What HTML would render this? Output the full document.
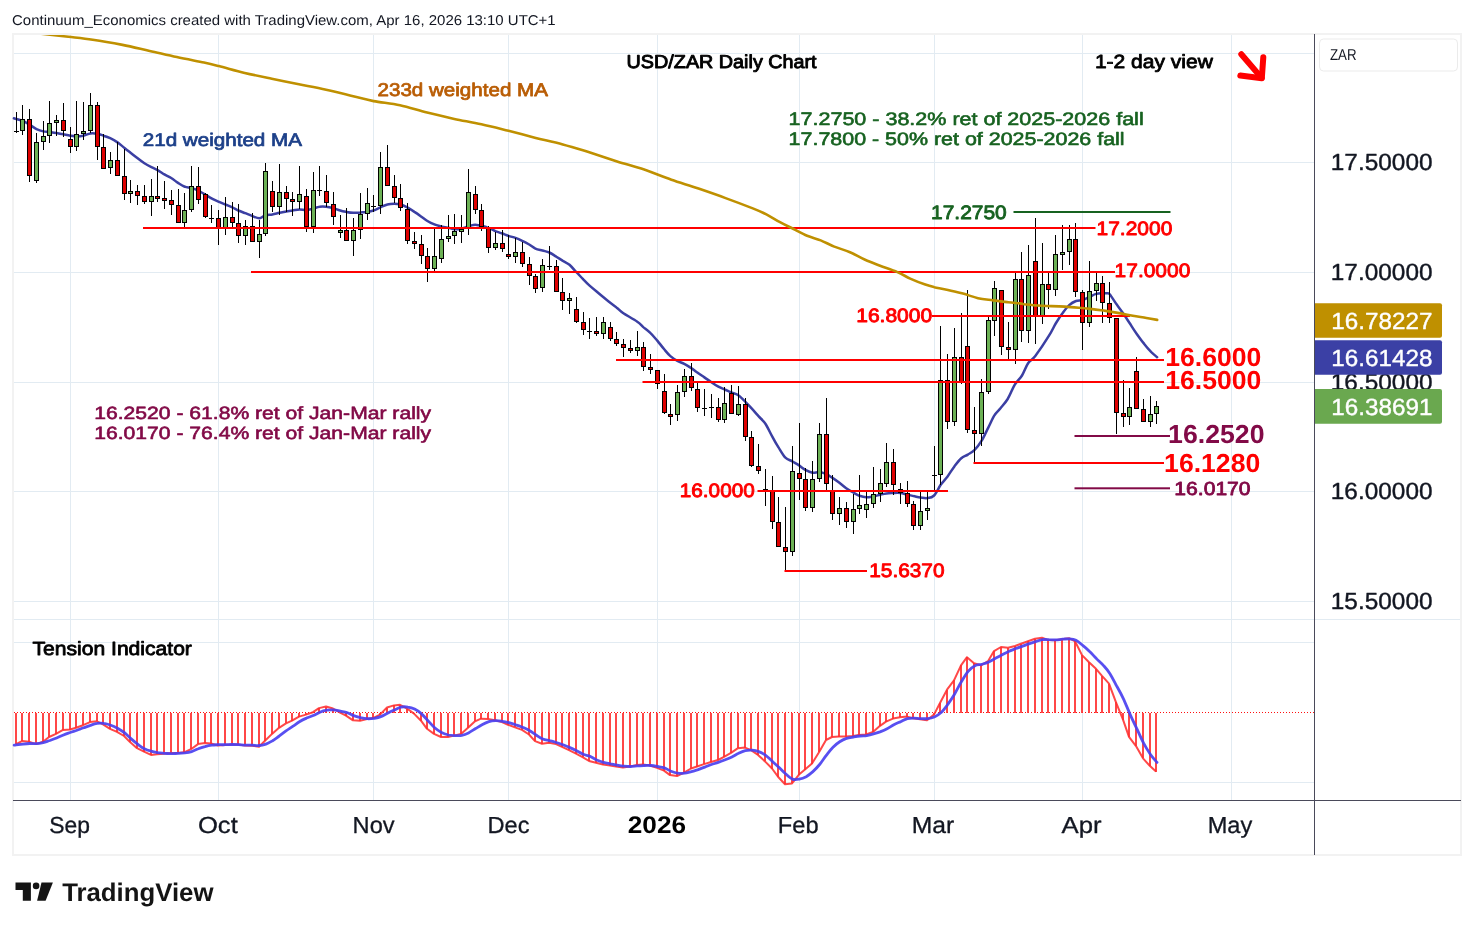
<!DOCTYPE html><html><head><meta charset="utf-8"><style>html,body{margin:0;padding:0;background:#fff}body{width:1474px;height:930px;position:relative;overflow:hidden;font-family:"Liberation Sans",sans-serif}</style></head><body><svg width="1474" height="930" viewBox="0 0 1474 930" style="position:absolute;left:0;top:0;will-change:transform" font-family="Liberation Sans, sans-serif" text-rendering="geometricPrecision">
<defs><clipPath id="pane"><rect x="14" y="35" width="1300" height="584"/></clipPath></defs>
<rect x="13" y="34" width="1448" height="821" fill="#fff" stroke="#f2f2f2" stroke-width="2"/>
<g stroke="#e2ebf2" stroke-width="1" shape-rendering="crispEdges">
<line x1="14" x2="1314" y1="53.5" y2="53.5"/>
<line x1="14" x2="1314" y1="162.5" y2="162.5"/>
<line x1="14" x2="1314" y1="272.5" y2="272.5"/>
<line x1="14" x2="1314" y1="382.5" y2="382.5"/>
<line x1="14" x2="1314" y1="491.5" y2="491.5"/>
<line x1="14" x2="1314" y1="601.5" y2="601.5"/>
<line x1="14" x2="1314" y1="642.5" y2="642.5"/>
<line x1="14" x2="1314" y1="782.5" y2="782.5"/>
<line x1="14" x2="1460" y1="619.5" y2="619.5"/>
<line x1="70.5" x2="70.5" y1="35" y2="800"/>
<line x1="218.5" x2="218.5" y1="35" y2="800"/>
<line x1="373.5" x2="373.5" y1="35" y2="800"/>
<line x1="508.5" x2="508.5" y1="35" y2="800"/>
<line x1="657.5" x2="657.5" y1="35" y2="800"/>
<line x1="799.5" x2="799.5" y1="35" y2="800"/>
<line x1="934.5" x2="934.5" y1="35" y2="800"/>
<line x1="1082.5" x2="1082.5" y1="35" y2="800"/>
<line x1="1231.5" x2="1231.5" y1="35" y2="800"/>
</g>
<line x1="14" x2="1314" y1="712.5" y2="712.5" stroke="#ff1010" stroke-width="1" stroke-dasharray="1 2"/>
<g fill="#ff3030" opacity="0.885" shape-rendering="crispEdges">
<rect x="15" y="712.5" width="2" height="31.6"/>
<rect x="21" y="712.5" width="2" height="28.6"/>
<rect x="28" y="712.5" width="2" height="29.2"/>
<rect x="35" y="712.5" width="2" height="31.6"/>
<rect x="42" y="712.5" width="2" height="29.2"/>
<rect x="48" y="712.5" width="2" height="24.5"/>
<rect x="55" y="712.5" width="2" height="21.4"/>
<rect x="62" y="712.5" width="2" height="17.4"/>
<rect x="69" y="712.5" width="2" height="17.0"/>
<rect x="75" y="712.5" width="2" height="15.3"/>
<rect x="82" y="712.5" width="2" height="12.7"/>
<rect x="89" y="712.5" width="2" height="9.6"/>
<rect x="96" y="712.5" width="2" height="8.8"/>
<rect x="102" y="712.5" width="2" height="11.9"/>
<rect x="109" y="712.5" width="2" height="16.3"/>
<rect x="116" y="712.5" width="2" height="19.4"/>
<rect x="123" y="712.5" width="2" height="23.5"/>
<rect x="129" y="712.5" width="2" height="29.6"/>
<rect x="136" y="712.5" width="2" height="35.7"/>
<rect x="143" y="712.5" width="2" height="39.1"/>
<rect x="150" y="712.5" width="2" height="42.4"/>
<rect x="156" y="712.5" width="2" height="41.8"/>
<rect x="163" y="712.5" width="2" height="41.2"/>
<rect x="170" y="712.5" width="2" height="40.4"/>
<rect x="177" y="712.5" width="2" height="40.4"/>
<rect x="183" y="712.5" width="2" height="39.8"/>
<rect x="190" y="712.5" width="2" height="36.7"/>
<rect x="197" y="712.5" width="2" height="31.6"/>
<rect x="204" y="712.5" width="2" height="30.6"/>
<rect x="210" y="712.5" width="2" height="31.0"/>
<rect x="217" y="712.5" width="2" height="33.0"/>
<rect x="224" y="712.5" width="2" height="32.6"/>
<rect x="231" y="712.5" width="2" height="32.0"/>
<rect x="237" y="712.5" width="2" height="32.0"/>
<rect x="244" y="712.5" width="2" height="33.0"/>
<rect x="251" y="712.5" width="2" height="33.2"/>
<rect x="258" y="712.5" width="2" height="34.3"/>
<rect x="264" y="712.5" width="2" height="28.2"/>
<rect x="271" y="712.5" width="2" height="21.4"/>
<rect x="278" y="712.5" width="2" height="15.3"/>
<rect x="285" y="712.5" width="2" height="10.9"/>
<rect x="291" y="712.5" width="2" height="8.2"/>
<rect x="298" y="712.5" width="2" height="4.1"/>
<rect x="305" y="712.5" width="2" height="2.1"/>
<rect x="312" y="712.2" width="2" height="0.3"/>
<rect x="318" y="708.1" width="2" height="4.4"/>
<rect x="325" y="706.5" width="2" height="6.0"/>
<rect x="332" y="708.5" width="2" height="4.0"/>
<rect x="339" y="712.5" width="2" height="0.1"/>
<rect x="345" y="712.5" width="2" height="3.1"/>
<rect x="352" y="712.5" width="2" height="7.8"/>
<rect x="359" y="712.5" width="2" height="8.2"/>
<rect x="366" y="712.5" width="2" height="6.6"/>
<rect x="372" y="712.5" width="2" height="5.6"/>
<rect x="379" y="712.5" width="2" height="2.1"/>
<rect x="386" y="707.5" width="2" height="5.0"/>
<rect x="393" y="705.4" width="2" height="7.1"/>
<rect x="399" y="704.8" width="2" height="7.7"/>
<rect x="406" y="708.5" width="2" height="4.0"/>
<rect x="413" y="712.5" width="2" height="1.1"/>
<rect x="420" y="712.5" width="2" height="8.2"/>
<rect x="426" y="712.5" width="2" height="16.3"/>
<rect x="433" y="712.5" width="2" height="21.4"/>
<rect x="440" y="712.5" width="2" height="24.5"/>
<rect x="447" y="712.5" width="2" height="24.5"/>
<rect x="453" y="712.5" width="2" height="23.1"/>
<rect x="460" y="712.5" width="2" height="21.4"/>
<rect x="467" y="712.5" width="2" height="15.3"/>
<rect x="474" y="712.5" width="2" height="8.8"/>
<rect x="480" y="712.5" width="2" height="6.2"/>
<rect x="487" y="712.5" width="2" height="6.6"/>
<rect x="494" y="712.5" width="2" height="7.8"/>
<rect x="501" y="712.5" width="2" height="9.6"/>
<rect x="507" y="712.5" width="2" height="12.3"/>
<rect x="514" y="712.5" width="2" height="14.9"/>
<rect x="521" y="712.5" width="2" height="17.4"/>
<rect x="528" y="712.5" width="2" height="22.0"/>
<rect x="534" y="712.5" width="2" height="28.6"/>
<rect x="541" y="712.5" width="2" height="31.2"/>
<rect x="548" y="712.5" width="2" height="30.2"/>
<rect x="555" y="712.5" width="2" height="31.6"/>
<rect x="561" y="712.5" width="2" height="34.3"/>
<rect x="568" y="712.5" width="2" height="37.7"/>
<rect x="575" y="712.5" width="2" height="41.2"/>
<rect x="582" y="712.5" width="2" height="44.8"/>
<rect x="588" y="712.5" width="2" height="48.5"/>
<rect x="595" y="712.5" width="2" height="50.3"/>
<rect x="602" y="712.5" width="2" height="52.0"/>
<rect x="609" y="712.5" width="2" height="53.0"/>
<rect x="615" y="712.5" width="2" height="54.0"/>
<rect x="622" y="712.5" width="2" height="55.0"/>
<rect x="629" y="712.5" width="2" height="54.0"/>
<rect x="636" y="712.5" width="2" height="52.6"/>
<rect x="642" y="712.5" width="2" height="52.0"/>
<rect x="649" y="712.5" width="2" height="53.0"/>
<rect x="656" y="712.5" width="2" height="55.4"/>
<rect x="663" y="712.5" width="2" height="58.1"/>
<rect x="669" y="712.5" width="2" height="62.6"/>
<rect x="676" y="712.5" width="2" height="63.6"/>
<rect x="683" y="712.5" width="2" height="60.1"/>
<rect x="690" y="712.5" width="2" height="56.0"/>
<rect x="696" y="712.5" width="2" height="54.0"/>
<rect x="703" y="712.5" width="2" height="51.6"/>
<rect x="710" y="712.5" width="2" height="49.5"/>
<rect x="717" y="712.5" width="2" height="47.5"/>
<rect x="723" y="712.5" width="2" height="44.4"/>
<rect x="730" y="712.5" width="2" height="40.4"/>
<rect x="737" y="712.5" width="2" height="35.7"/>
<rect x="744" y="712.5" width="2" height="35.1"/>
<rect x="750" y="712.5" width="2" height="37.7"/>
<rect x="757" y="712.5" width="2" height="42.4"/>
<rect x="764" y="712.5" width="2" height="48.9"/>
<rect x="771" y="712.5" width="2" height="56.0"/>
<rect x="777" y="712.5" width="2" height="64.2"/>
<rect x="784" y="712.5" width="2" height="71.7"/>
<rect x="791" y="712.5" width="2" height="70.9"/>
<rect x="798" y="712.5" width="2" height="62.1"/>
<rect x="804" y="712.5" width="2" height="57.1"/>
<rect x="811" y="712.5" width="2" height="51.0"/>
<rect x="818" y="712.5" width="2" height="39.8"/>
<rect x="825" y="712.5" width="2" height="27.5"/>
<rect x="831" y="712.5" width="2" height="24.5"/>
<rect x="838" y="712.5" width="2" height="24.1"/>
<rect x="845" y="712.5" width="2" height="24.1"/>
<rect x="852" y="712.5" width="2" height="23.5"/>
<rect x="858" y="712.5" width="2" height="22.5"/>
<rect x="865" y="712.5" width="2" height="22.0"/>
<rect x="872" y="712.5" width="2" height="19.4"/>
<rect x="879" y="712.5" width="2" height="13.3"/>
<rect x="885" y="712.5" width="2" height="9.2"/>
<rect x="892" y="712.5" width="2" height="6.1"/>
<rect x="899" y="712.5" width="2" height="4.7"/>
<rect x="906" y="712.5" width="2" height="4.1"/>
<rect x="912" y="712.5" width="2" height="5.7"/>
<rect x="919" y="712.5" width="2" height="6.7"/>
<rect x="926" y="712.5" width="2" height="7.8"/>
<rect x="933" y="712.5" width="2" height="2.1"/>
<rect x="939" y="703.0" width="2" height="9.5"/>
<rect x="946" y="689.7" width="2" height="22.8"/>
<rect x="953" y="680.4" width="2" height="32.1"/>
<rect x="960" y="665.3" width="2" height="47.2"/>
<rect x="966" y="657.2" width="2" height="55.3"/>
<rect x="973" y="663.3" width="2" height="49.2"/>
<rect x="980" y="665.3" width="2" height="47.2"/>
<rect x="987" y="661.2" width="2" height="51.3"/>
<rect x="993" y="651.1" width="2" height="61.4"/>
<rect x="1000" y="647.0" width="2" height="65.5"/>
<rect x="1007" y="647.8" width="2" height="64.7"/>
<rect x="1014" y="646.0" width="2" height="66.5"/>
<rect x="1020" y="643.7" width="2" height="68.8"/>
<rect x="1027" y="641.3" width="2" height="71.2"/>
<rect x="1034" y="638.8" width="2" height="73.7"/>
<rect x="1041" y="637.8" width="2" height="74.7"/>
<rect x="1047" y="639.9" width="2" height="72.6"/>
<rect x="1054" y="640.3" width="2" height="72.2"/>
<rect x="1061" y="639.2" width="2" height="73.3"/>
<rect x="1068" y="638.2" width="2" height="74.3"/>
<rect x="1074" y="641.3" width="2" height="71.2"/>
<rect x="1081" y="655.1" width="2" height="57.4"/>
<rect x="1088" y="662.2" width="2" height="50.3"/>
<rect x="1095" y="668.8" width="2" height="43.7"/>
<rect x="1101" y="675.9" width="2" height="36.6"/>
<rect x="1108" y="683.6" width="2" height="28.9"/>
<rect x="1115" y="702.3" width="2" height="10.2"/>
<rect x="1122" y="712.5" width="2" height="7.1"/>
<rect x="1128" y="712.5" width="2" height="24.4"/>
<rect x="1135" y="712.5" width="2" height="33.6"/>
<rect x="1142" y="712.5" width="2" height="45.8"/>
<rect x="1149" y="712.5" width="2" height="53.6"/>
<rect x="1155" y="712.5" width="2" height="59.0"/>
</g>
<polyline points="16,744.1 22,741.1 29,741.7 36,744.1 43,741.7 49,737.0 56,733.9 63,729.9 70,729.5 76,727.8 83,725.2 90,722.1 97,721.3 103,724.4 110,728.8 117,731.9 124,736.0 130,742.1 137,748.2 144,751.6 151,754.9 157,754.3 164,753.7 171,752.9 178,752.9 184,752.3 191,749.2 198,744.1 205,743.1 211,743.5 218,745.5 225,745.1 232,744.5 238,744.5 245,745.5 252,745.7 259,746.8 265,740.7 272,733.9 279,727.8 286,723.4 292,720.7 299,716.6 306,714.6 313,712.2 319,708.1 326,706.5 333,708.5 340,712.6 346,715.6 353,720.3 360,720.7 367,719.1 373,718.1 380,714.6 387,707.5 394,705.4 400,704.8 407,708.5 414,713.6 421,720.7 427,728.8 434,733.9 441,737.0 448,737.0 454,735.6 461,733.9 468,727.8 475,721.3 481,718.7 488,719.1 495,720.3 502,722.1 508,724.8 515,727.4 522,729.9 529,734.5 535,741.1 542,743.7 549,742.7 556,744.1 562,746.8 569,750.2 576,753.7 583,757.3 589,761.0 596,762.8 603,764.5 610,765.5 616,766.5 623,767.5 630,766.5 637,765.1 643,764.5 650,765.5 657,767.9 664,770.6 670,775.1 677,776.1 684,772.6 691,768.5 697,766.5 704,764.1 711,762.0 718,760.0 724,756.9 731,752.9 738,748.2 745,747.6 751,750.2 758,754.9 765,761.4 772,768.5 778,776.7 785,784.2 792,783.4 799,774.6 805,769.6 812,763.5 819,752.3 826,740.0 832,737.0 839,736.6 846,736.6 853,736.0 859,735.0 866,734.5 873,731.9 880,725.8 886,721.7 893,718.6 900,717.2 907,716.6 913,718.2 920,719.2 927,720.3 934,714.6 940,703.0 947,689.7 954,680.4 961,665.3 967,657.2 974,663.3 981,665.3 988,661.2 994,651.1 1001,647.0 1008,647.8 1015,646.0 1021,643.7 1028,641.3 1035,638.8 1042,637.8 1048,639.9 1055,640.3 1062,639.2 1069,638.2 1075,641.3 1082,655.1 1089,662.2 1096,668.8 1102,675.9 1109,683.6 1116,702.3 1123,719.6 1129,736.9 1136,746.1 1143,758.3 1150,766.1 1156,771.5" fill="none" stroke="#ff3030" stroke-width="2" stroke-linejoin="round" opacity="0.885"/>
<path d="M14.1 745.1 C15.6 745.0 20.4 744.4 23.0 744.1 C25.6 743.8 27.5 743.6 29.7 743.5 C32.0 743.4 34.2 743.8 36.5 743.7 C38.7 743.6 40.9 743.2 43.2 742.7 C45.4 742.1 47.7 741.2 49.9 740.5 C52.1 739.7 54.3 738.9 56.6 738.0 C58.9 737.1 61.3 735.9 63.5 735.0 C65.8 734.0 68.0 733.3 70.2 732.5 C72.5 731.7 74.7 731.1 77.0 730.3 C79.2 729.5 81.4 728.6 83.7 727.8 C85.9 727.0 88.2 726.1 90.4 725.4 C92.6 724.6 94.9 723.7 97.1 723.4 C99.4 723.0 101.6 723.0 103.8 723.4 C106.1 723.7 108.5 724.4 110.8 725.2 C113.0 726.0 115.2 727.0 117.5 728.2 C119.7 729.5 121.9 730.8 124.2 732.5 C126.4 734.2 128.7 736.7 130.9 738.6 C133.1 740.6 135.4 742.4 137.6 744.1 C139.9 745.8 142.1 747.6 144.3 748.8 C146.6 750.0 148.8 750.6 151.1 751.2 C153.3 751.9 155.7 752.3 158.0 752.7 C160.2 753.0 162.5 753.1 164.7 753.3 C166.9 753.4 169.2 753.7 171.4 753.7 C173.6 753.7 175.9 753.4 178.1 753.3 C180.4 753.1 182.6 753.1 184.8 752.9 C187.1 752.6 189.3 752.3 191.6 751.6 C193.8 751.0 196.0 749.6 198.3 748.8 C200.5 747.9 202.7 747.2 205.0 746.6 C207.3 745.9 209.6 745.4 211.9 745.1 C214.2 744.8 216.4 744.8 218.6 744.7 C220.9 744.7 223.1 744.8 225.3 744.7 C227.6 744.7 229.8 744.5 232.1 744.5 C234.3 744.5 236.5 744.6 238.8 744.7 C241.0 744.8 243.3 745.1 245.5 745.1 C247.7 745.2 249.9 745.1 252.2 745.1 C254.5 745.2 256.9 745.7 259.1 745.5 C261.4 745.4 263.6 744.9 265.9 744.1 C268.1 743.3 270.3 742.0 272.6 740.7 C274.8 739.3 277.0 737.6 279.3 736.0 C281.5 734.3 283.8 732.5 286.0 730.9 C288.2 729.3 290.5 727.9 292.7 726.4 C295.0 724.9 297.1 723.1 299.4 721.7 C301.7 720.3 304.2 719.1 306.5 718.1 C308.8 717.0 311.0 716.6 313.2 715.6 C315.5 714.6 317.7 713.1 319.9 712.2 C322.2 711.2 324.6 710.5 326.9 710.1 C329.1 709.8 331.3 709.8 333.6 709.9 C335.8 710.1 338.1 710.7 340.3 711.1 C342.5 711.6 344.8 711.8 347.0 712.6 C349.3 713.3 351.5 714.8 353.7 715.6 C356.0 716.5 358.2 717.1 360.5 717.7 C362.7 718.2 365.1 718.6 367.4 718.7 C369.6 718.8 371.9 718.6 374.1 718.3 C376.3 717.9 378.6 717.5 380.8 716.6 C383.0 715.8 385.3 714.3 387.5 713.2 C389.8 712.1 392.0 711.1 394.2 710.1 C396.5 709.1 398.7 707.6 401.0 707.1 C403.2 706.6 405.6 706.7 407.9 707.1 C410.1 707.4 412.4 708.0 414.6 709.1 C416.8 710.2 419.1 711.7 421.3 713.6 C423.5 715.5 425.8 718.3 428.0 720.7 C430.3 723.1 432.5 725.9 434.7 727.8 C437.0 729.8 439.2 731.3 441.5 732.5 C443.7 733.7 446.1 734.4 448.4 735.0 C450.7 735.5 452.9 735.5 455.1 735.6 C457.3 735.6 459.6 735.8 461.8 735.4 C464.1 734.9 466.3 734.0 468.5 732.9 C470.8 731.8 473.0 730.2 475.2 728.8 C477.5 727.5 479.7 726.0 482.0 724.8 C484.2 723.6 486.6 722.4 488.9 721.7 C491.2 721.0 493.4 720.8 495.6 720.7 C497.8 720.6 500.1 721.0 502.3 721.3 C504.6 721.7 506.8 722.2 509.0 722.7 C511.3 723.3 513.5 724.0 515.8 724.8 C518.0 725.5 520.2 726.3 522.5 727.2 C524.7 728.2 527.1 729.2 529.4 730.5 C531.7 731.8 533.9 733.5 536.1 735.0 C538.3 736.4 540.6 738.1 542.8 739.0 C545.1 740.0 547.3 740.1 549.5 740.7 C551.8 741.2 554.0 741.8 556.3 742.5 C558.5 743.2 560.7 743.9 563.0 744.7 C565.2 745.6 567.6 746.6 569.9 747.6 C572.2 748.6 574.4 749.7 576.6 750.8 C578.9 752.0 581.1 753.4 583.3 754.3 C585.6 755.2 587.8 755.4 590.0 756.3 C592.2 757.3 594.4 759.0 596.7 760.0 C599.0 761.0 601.4 761.8 603.6 762.4 C605.9 763.1 608.1 763.4 610.4 763.9 C612.6 764.3 614.8 764.7 617.1 765.1 C619.3 765.5 621.5 765.9 623.8 766.1 C626.0 766.3 628.3 766.5 630.5 766.5 C632.7 766.5 634.9 766.1 637.2 765.9 C639.5 765.7 641.9 765.6 644.1 765.5 C646.4 765.4 648.6 765.3 650.9 765.5 C653.1 765.7 655.3 766.1 657.6 766.5 C659.8 766.9 662.1 767.1 664.3 767.9 C666.5 768.7 668.8 770.3 671.0 771.2 C673.2 772.1 675.5 772.9 677.7 773.2 C680.0 773.6 682.4 773.5 684.6 773.2 C686.9 773.0 689.1 772.2 691.4 771.6 C693.6 771.0 695.8 770.3 698.1 769.6 C700.3 768.8 702.6 768.0 704.8 767.1 C707.0 766.3 709.3 765.3 711.5 764.5 C713.8 763.7 716.0 763.2 718.2 762.4 C720.5 761.7 722.9 760.7 725.2 759.8 C727.4 758.9 729.6 758.0 731.9 756.9 C734.1 755.9 736.3 754.3 738.6 753.3 C740.8 752.2 743.1 751.1 745.3 750.6 C747.5 750.1 749.8 750.1 752.0 750.2 C754.3 750.4 756.5 750.8 758.7 751.6 C761.0 752.5 763.4 753.7 765.7 755.3 C767.9 756.9 770.1 759.4 772.4 761.4 C774.6 763.5 776.9 765.4 779.1 767.5 C781.3 769.6 783.6 772.1 785.8 774.0 C788.0 776.0 790.3 778.3 792.5 779.1 C794.8 780.0 797.0 779.5 799.2 779.1 C801.5 778.7 803.9 777.9 806.2 776.7 C808.4 775.4 810.6 773.6 812.9 771.6 C815.1 769.6 817.4 767.2 819.6 764.5 C821.8 761.8 824.1 758.2 826.3 755.3 C828.6 752.4 830.8 749.4 833.0 747.2 C835.3 744.9 837.5 743.1 839.7 741.7 C842.0 740.2 844.2 739.2 846.5 738.4 C848.7 737.6 851.1 737.4 853.4 737.0 C855.7 736.6 857.9 736.2 860.1 736.0 C862.3 735.7 864.6 735.9 866.8 735.6 C869.1 735.2 871.3 734.6 873.5 733.9 C875.7 733.3 877.7 732.7 880.0 731.9 C882.3 731.0 884.8 730.0 887.1 728.8 C889.4 727.6 891.6 725.9 893.8 724.7 C896.1 723.5 898.3 722.7 900.6 721.7 C902.8 720.7 905.0 719.2 907.3 718.6 C909.5 718.1 911.8 718.2 914.0 718.2 C916.2 718.2 918.4 718.6 920.7 718.6 C923.0 718.7 925.4 718.9 927.6 718.6 C929.9 718.4 932.1 718.0 934.3 717.0 C936.6 716.0 938.8 714.6 941.1 712.5 C943.3 710.4 945.5 707.4 947.8 704.4 C950.0 701.3 952.3 697.9 954.5 694.2 C956.7 690.5 958.9 685.8 961.2 682.0 C963.5 678.2 965.9 674.1 968.1 671.4 C970.4 668.7 972.6 666.9 974.9 665.7 C977.1 664.5 979.3 664.9 981.6 664.3 C983.8 663.7 986.0 663.2 988.3 662.2 C990.5 661.3 992.8 659.8 995.0 658.6 C997.2 657.4 999.4 656.3 1001.7 655.1 C1004.0 653.9 1006.4 652.5 1008.6 651.5 C1010.9 650.4 1013.1 649.7 1015.4 648.8 C1017.6 648.0 1019.8 647.2 1022.1 646.4 C1024.3 645.6 1026.5 644.7 1028.8 643.9 C1031.0 643.1 1033.3 642.4 1035.5 641.7 C1037.7 641.0 1039.9 640.0 1042.2 639.7 C1044.5 639.3 1046.9 639.6 1049.1 639.7 C1051.4 639.7 1053.6 639.9 1055.9 639.9 C1058.1 639.8 1060.3 639.4 1062.6 639.2 C1064.8 639.1 1067.1 638.7 1069.3 638.8 C1071.5 639.0 1073.8 639.2 1076.0 640.3 C1078.2 641.4 1080.5 643.5 1082.7 645.4 C1085.0 647.2 1087.4 649.3 1089.6 651.5 C1091.9 653.7 1094.1 656.3 1096.4 658.6 C1098.6 660.9 1100.8 662.6 1103.1 665.1 C1105.3 667.6 1107.6 670.0 1109.8 673.4 C1112.0 676.9 1114.3 681.5 1116.5 685.7 C1118.8 689.8 1121.0 693.5 1123.2 698.3 C1125.5 703.1 1127.9 709.5 1130.2 714.6 C1132.4 719.6 1134.6 724.1 1136.9 728.8 C1139.1 733.6 1141.3 738.8 1143.6 743.1 C1145.8 747.3 1148.1 751.0 1150.3 754.2 C1152.5 757.5 1155.9 761.0 1157.0 762.4" fill="none" stroke="#4a40f0" stroke-width="2.8" stroke-linejoin="round" stroke-linecap="round" opacity="0.92"/>
<path d="M13.9 118.3 C15.4 118.7 20.2 119.7 22.8 120.8 C25.4 121.8 27.2 123.3 29.5 124.7 C31.8 126.0 34.2 128.0 36.5 129.1 C38.8 130.2 41.1 130.9 43.3 131.4 C45.5 131.9 47.5 131.7 49.7 132.0 C51.8 132.3 54.1 132.6 56.4 133.0 C58.7 133.4 61.3 133.9 63.6 134.3 C65.9 134.8 68.2 135.4 70.3 135.7 C72.5 136.0 74.4 136.3 76.5 136.3 C78.7 136.3 81.0 136.2 83.3 135.7 C85.6 135.2 88.1 133.7 90.5 133.4 C92.8 133.0 95.3 133.4 97.4 133.7 C99.6 134.1 101.3 134.9 103.4 135.7 C105.6 136.4 107.8 137.1 110.2 138.2 C112.5 139.3 115.2 140.8 117.5 142.4 C119.9 144.1 122.3 146.2 124.5 147.9 C126.7 149.6 128.4 151.0 130.5 152.7 C132.6 154.4 135.0 156.3 137.3 158.1 C139.6 159.9 142.1 161.8 144.4 163.3 C146.8 164.9 149.2 166.1 151.4 167.2 C153.6 168.3 155.4 168.9 157.6 170.1 C159.7 171.3 162.1 173.0 164.4 174.4 C166.6 175.7 168.9 176.6 171.2 178.0 C173.5 179.4 175.7 181.4 178.0 182.9 C180.2 184.3 182.5 185.9 184.8 186.7 C187.0 187.6 189.3 187.4 191.5 188.1 C193.8 188.7 196.0 189.5 198.3 190.6 C200.6 191.7 202.9 193.2 205.1 194.5 C207.3 195.8 209.2 197.1 211.5 198.3 C213.7 199.5 216.1 200.6 218.4 201.6 C220.7 202.7 223.1 203.6 225.4 204.5 C227.7 205.5 230.2 206.4 232.3 207.4 C234.5 208.4 236.2 209.6 238.3 210.5 C240.5 211.5 242.9 212.3 245.3 213.2 C247.7 214.2 250.1 215.3 252.5 216.1 C254.8 217.0 257.3 218.4 259.4 218.3 C261.6 218.1 263.3 215.8 265.4 215.2 C267.6 214.5 270.1 214.8 272.4 214.4 C274.7 214.0 277.0 213.3 279.3 212.8 C281.7 212.4 284.1 211.9 286.3 211.5 C288.5 211.1 290.3 210.9 292.5 210.5 C294.7 210.2 297.1 209.5 299.5 209.4 C301.8 209.3 304.1 210.1 306.4 209.9 C308.7 209.8 311.1 209.1 313.3 208.6 C315.5 208.0 317.3 207.0 319.5 206.7 C321.6 206.3 324.0 206.4 326.2 206.7 C328.5 206.9 330.7 207.4 333.0 208.0 C335.3 208.7 337.9 209.9 340.2 210.5 C342.4 211.2 344.2 211.5 346.4 211.9 C348.6 212.3 351.0 212.7 353.3 212.8 C355.6 212.9 358.0 212.6 360.3 212.5 C362.6 212.3 365.1 212.2 367.3 211.9 C369.4 211.6 371.3 211.3 373.4 210.5 C375.6 209.8 378.1 208.4 380.4 207.4 C382.7 206.4 385.0 205.1 387.4 204.5 C389.7 203.9 392.2 203.8 394.3 203.8 C396.5 203.8 398.2 203.9 400.3 204.5 C402.5 205.1 404.9 206.2 407.3 207.4 C409.6 208.7 412.1 210.3 414.4 211.9 C416.8 213.4 419.3 215.2 421.4 216.7 C423.6 218.2 425.2 219.7 427.4 221.0 C429.6 222.3 432.1 223.5 434.4 224.4 C436.7 225.4 439.0 225.8 441.3 226.4 C443.7 226.9 446.1 227.3 448.3 227.7 C450.5 228.2 452.3 229.1 454.5 229.3 C456.7 229.4 459.7 229.1 461.6 228.7 C463.6 228.3 464.5 227.7 466.1 227.1 C467.7 226.5 469.8 225.7 471.3 225.4 C472.8 225.0 473.9 224.8 475.2 224.8 C476.5 224.8 477.2 225.0 479.0 225.4 C480.9 225.7 484.6 226.4 486.1 226.9 C487.7 227.5 487.6 228.3 488.4 228.7 C489.3 229.0 490.1 228.6 491.3 229.0 C492.5 229.5 493.6 230.4 495.4 231.2 C497.2 231.9 500.2 232.7 502.4 233.5 C504.5 234.3 506.2 235.1 508.4 235.8 C510.5 236.6 513.2 237.1 515.5 237.9 C517.8 238.8 520.0 239.8 522.3 240.9 C524.6 241.9 527.1 243.2 529.2 244.5 C531.4 245.8 533.2 247.6 535.4 248.6 C537.6 249.6 540.1 249.9 542.4 250.5 C544.7 251.2 547.0 251.4 549.4 252.5 C551.7 253.5 554.1 255.4 556.3 256.7 C558.5 258.1 560.3 259.2 562.5 260.6 C564.7 261.9 567.2 262.9 569.5 264.8 C571.8 266.8 574.1 269.7 576.4 272.2 C578.8 274.6 581.2 277.3 583.4 279.5 C585.6 281.8 587.4 283.7 589.6 285.7 C591.8 287.7 594.2 289.6 596.6 291.5 C598.9 293.5 601.8 295.9 603.5 297.3 C605.2 298.7 604.6 298.3 606.8 300.0 C608.9 301.7 613.7 305.2 616.4 307.4 C619.2 309.5 619.9 310.8 623.4 313.2 C626.9 315.5 634.0 319.3 637.3 321.7 C640.7 324.0 641.2 325.2 643.3 327.1 C645.5 328.9 648.0 330.6 650.3 332.9 C652.6 335.1 654.9 337.9 657.3 340.6 C659.6 343.4 662.0 346.7 664.2 349.3 C666.4 351.9 668.2 354.2 670.4 356.1 C672.6 358.0 675.0 359.6 677.4 360.9 C679.7 362.2 682.0 362.6 684.3 363.8 C686.7 365.0 689.1 366.6 691.3 368.1 C693.5 369.5 695.1 371.0 697.3 372.5 C699.5 374.1 702.1 375.8 704.4 377.4 C706.8 379.0 709.1 380.7 711.4 382.2 C713.7 383.8 716.2 385.5 718.4 386.7 C720.5 387.8 722.2 388.4 724.4 389.4 C726.5 390.3 729.0 391.5 731.3 392.5 C733.7 393.4 736.0 393.6 738.3 395.2 C740.6 396.7 743.2 399.6 745.4 401.8 C747.6 404.0 749.2 405.8 751.4 408.2 C753.6 410.6 756.2 413.6 758.5 416.2 C760.8 418.8 763.1 420.3 765.4 423.7 C767.7 427.1 770.1 432.7 772.3 436.6 C774.4 440.6 776.3 443.9 778.5 447.4 C780.7 450.9 783.1 455.4 785.4 457.7 C787.7 460.0 789.9 460.0 792.3 461.3 C794.6 462.7 797.2 464.2 799.4 465.6 C801.5 467.1 803.2 468.8 805.4 469.9 C807.6 471.1 810.1 472.4 812.5 472.7 C814.8 473.1 817.0 471.8 819.4 472.1 C821.7 472.3 824.3 473.3 826.5 474.2 C828.6 475.2 830.3 476.5 832.5 477.9 C834.6 479.3 837.1 481.1 839.4 482.8 C841.6 484.6 843.9 486.6 846.2 488.2 C848.6 489.8 851.1 491.3 853.3 492.5 C855.5 493.8 857.2 495.0 859.4 495.8 C861.5 496.5 863.9 497.2 866.2 497.3 C868.6 497.4 871.0 496.8 873.3 496.4 C875.7 496.0 878.0 495.2 880.2 494.7 C882.4 494.2 884.3 493.7 886.5 493.4 C888.7 493.1 891.2 493.1 893.5 493.0 C895.8 492.9 898.1 492.7 900.4 493.0 C902.7 493.3 905.0 494.1 907.2 494.6 C909.3 495.1 911.3 495.6 913.5 496.1 C915.7 496.5 918.1 497.2 920.4 497.5 C922.8 497.8 925.1 498.5 927.4 498.1 C929.7 497.8 931.9 497.7 934.1 495.5 C936.4 493.2 938.5 488.0 940.7 484.8 C942.9 481.7 945.1 479.7 947.4 476.7 C949.7 473.6 952.0 469.5 954.4 466.4 C956.7 463.4 959.1 460.2 961.3 458.3 C963.6 456.3 965.7 456.0 967.8 454.6 C970.0 453.2 972.1 452.4 974.4 450.1 C976.7 447.8 979.2 444.7 981.5 440.9 C983.8 437.2 986.1 431.9 988.3 427.6 C990.4 423.4 992.4 418.6 994.4 415.4 C996.4 412.1 998.3 410.9 1000.5 408.2 C1002.7 405.5 1005.3 402.9 1007.7 399.0 C1010.1 395.1 1012.4 388.6 1014.8 384.7 C1017.2 380.8 1019.8 379.1 1022.0 375.5 C1024.2 372.0 1025.9 366.5 1028.1 363.3 C1030.3 360.0 1031.8 360.7 1035.3 356.1 C1038.7 351.5 1045.6 341.2 1049.0 335.7 C1052.4 330.3 1053.5 327.2 1055.7 323.5 C1058.0 319.7 1060.2 316.3 1062.5 313.3 C1064.7 310.2 1067.0 307.1 1069.2 305.1 C1071.5 303.1 1073.7 301.9 1076.0 301.0 C1078.2 300.2 1080.4 300.7 1082.7 300.0 C1084.9 299.3 1087.2 298.0 1089.4 296.9 C1091.7 295.9 1093.9 294.5 1096.2 293.9 C1098.4 293.3 1101.0 293.4 1102.9 293.3 C1104.8 293.2 1106.3 293.1 1107.4 293.3 C1108.5 293.4 1108.2 292.5 1109.7 294.3 C1111.2 296.1 1114.2 300.9 1116.4 304.1 C1118.7 307.2 1120.9 310.0 1123.1 313.3 C1125.4 316.5 1127.6 320.1 1129.9 323.5 C1132.1 326.9 1134.2 330.3 1136.6 333.7 C1139.0 337.1 1141.7 340.9 1144.2 343.9 C1146.6 347.0 1149.2 349.9 1151.3 352.1 C1153.5 354.3 1156.1 356.3 1157.1 357.2" fill="none" stroke="#3b3fa3" stroke-width="2.5" stroke-linejoin="round" stroke-linecap="round"/>
<g shape-rendering="crispEdges">
<rect x="16.0" y="112" width="1" height="21" fill="#000"/>
<rect x="14.0" y="131" width="5" height="1" fill="#000"/>
<rect x="22.0" y="105" width="1" height="30" fill="#000"/>
<rect x="20.0" y="119" width="5" height="12" fill="#000"/>
<rect x="21.0" y="120" width="3" height="10" fill="#6cb155"/>
<rect x="29.0" y="109" width="1" height="73" fill="#000"/>
<rect x="27.0" y="119" width="5" height="57" fill="#000"/>
<rect x="28.0" y="120" width="3" height="55" fill="#de0000"/>
<rect x="36.0" y="133" width="1" height="50" fill="#000"/>
<rect x="34.0" y="142" width="5" height="39" fill="#000"/>
<rect x="35.0" y="143" width="3" height="37" fill="#6cb155"/>
<rect x="43.0" y="121" width="1" height="29" fill="#000"/>
<rect x="41.0" y="136" width="5" height="6" fill="#000"/>
<rect x="42.0" y="137" width="3" height="4" fill="#6cb155"/>
<rect x="49.0" y="101" width="1" height="42" fill="#000"/>
<rect x="47.0" y="123" width="5" height="13" fill="#000"/>
<rect x="48.0" y="124" width="3" height="11" fill="#6cb155"/>
<rect x="56.0" y="115" width="1" height="21" fill="#000"/>
<rect x="54.0" y="120" width="5" height="3" fill="#000"/>
<rect x="55.0" y="121" width="3" height="1" fill="#6cb155"/>
<rect x="63.0" y="103" width="1" height="34" fill="#000"/>
<rect x="61.0" y="120" width="5" height="11" fill="#000"/>
<rect x="62.0" y="121" width="3" height="9" fill="#de0000"/>
<rect x="70.0" y="127" width="1" height="26" fill="#000"/>
<rect x="68.0" y="139" width="5" height="8" fill="#000"/>
<rect x="69.0" y="140" width="3" height="6" fill="#de0000"/>
<rect x="76.0" y="101" width="1" height="50" fill="#000"/>
<rect x="74.0" y="134" width="5" height="13" fill="#000"/>
<rect x="75.0" y="135" width="3" height="11" fill="#6cb155"/>
<rect x="83.0" y="102" width="1" height="38" fill="#000"/>
<rect x="81.0" y="131" width="5" height="3" fill="#000"/>
<rect x="82.0" y="132" width="3" height="1" fill="#6cb155"/>
<rect x="90.0" y="93" width="1" height="40" fill="#000"/>
<rect x="88.0" y="105" width="5" height="26" fill="#000"/>
<rect x="89.0" y="106" width="3" height="24" fill="#6cb155"/>
<rect x="97.0" y="102" width="1" height="58" fill="#000"/>
<rect x="95.0" y="105" width="5" height="42" fill="#000"/>
<rect x="96.0" y="106" width="3" height="40" fill="#de0000"/>
<rect x="103.0" y="134" width="1" height="35" fill="#000"/>
<rect x="101.0" y="147" width="5" height="22" fill="#000"/>
<rect x="102.0" y="148" width="3" height="20" fill="#de0000"/>
<rect x="110.0" y="152" width="1" height="22" fill="#000"/>
<rect x="108.0" y="160" width="5" height="8" fill="#000"/>
<rect x="109.0" y="161" width="3" height="6" fill="#6cb155"/>
<rect x="117.0" y="142" width="1" height="34" fill="#000"/>
<rect x="115.0" y="160" width="5" height="16" fill="#000"/>
<rect x="116.0" y="161" width="3" height="14" fill="#de0000"/>
<rect x="124.0" y="149" width="1" height="51" fill="#000"/>
<rect x="122.0" y="176" width="5" height="18" fill="#000"/>
<rect x="123.0" y="177" width="3" height="16" fill="#de0000"/>
<rect x="130.0" y="180" width="1" height="23" fill="#000"/>
<rect x="128.0" y="191" width="5" height="3" fill="#000"/>
<rect x="129.0" y="192" width="3" height="1" fill="#6cb155"/>
<rect x="137.0" y="185" width="1" height="20" fill="#000"/>
<rect x="135.0" y="191" width="5" height="5" fill="#000"/>
<rect x="136.0" y="192" width="3" height="3" fill="#de0000"/>
<rect x="144.0" y="185" width="1" height="19" fill="#000"/>
<rect x="142.0" y="196" width="5" height="6" fill="#000"/>
<rect x="143.0" y="197" width="3" height="4" fill="#de0000"/>
<rect x="151.0" y="179" width="1" height="37" fill="#000"/>
<rect x="149.0" y="196" width="5" height="6" fill="#000"/>
<rect x="150.0" y="197" width="3" height="4" fill="#6cb155"/>
<rect x="157.0" y="166" width="1" height="36" fill="#000"/>
<rect x="155.0" y="196" width="5" height="3" fill="#000"/>
<rect x="156.0" y="197" width="3" height="1" fill="#de0000"/>
<rect x="164.0" y="181" width="1" height="28" fill="#000"/>
<rect x="162.0" y="198" width="5" height="3" fill="#000"/>
<rect x="163.0" y="199" width="3" height="1" fill="#de0000"/>
<rect x="171.0" y="190" width="1" height="25" fill="#000"/>
<rect x="169.0" y="200" width="5" height="5" fill="#000"/>
<rect x="170.0" y="201" width="3" height="3" fill="#de0000"/>
<rect x="178.0" y="189" width="1" height="34" fill="#000"/>
<rect x="176.0" y="205" width="5" height="18" fill="#000"/>
<rect x="177.0" y="206" width="3" height="16" fill="#de0000"/>
<rect x="184.0" y="193" width="1" height="34" fill="#000"/>
<rect x="182.0" y="210" width="5" height="13" fill="#000"/>
<rect x="183.0" y="211" width="3" height="11" fill="#6cb155"/>
<rect x="191.0" y="166" width="1" height="46" fill="#000"/>
<rect x="189.0" y="186" width="5" height="24" fill="#000"/>
<rect x="190.0" y="187" width="3" height="22" fill="#6cb155"/>
<rect x="198.0" y="167" width="1" height="37" fill="#000"/>
<rect x="196.0" y="186" width="5" height="14" fill="#000"/>
<rect x="197.0" y="187" width="3" height="12" fill="#de0000"/>
<rect x="205.0" y="193" width="1" height="25" fill="#000"/>
<rect x="203.0" y="194" width="5" height="23" fill="#000"/>
<rect x="204.0" y="195" width="3" height="21" fill="#de0000"/>
<rect x="211.0" y="205" width="1" height="18" fill="#000"/>
<rect x="209.0" y="218" width="5" height="1" fill="#000"/>
<rect x="218.0" y="210" width="1" height="35" fill="#000"/>
<rect x="216.0" y="218" width="5" height="11" fill="#000"/>
<rect x="217.0" y="219" width="3" height="9" fill="#de0000"/>
<rect x="225.0" y="197" width="1" height="38" fill="#000"/>
<rect x="223.0" y="217" width="5" height="12" fill="#000"/>
<rect x="224.0" y="218" width="3" height="10" fill="#6cb155"/>
<rect x="232.0" y="202" width="1" height="25" fill="#000"/>
<rect x="230.0" y="217" width="5" height="6" fill="#000"/>
<rect x="231.0" y="218" width="3" height="4" fill="#de0000"/>
<rect x="238.0" y="204" width="1" height="39" fill="#000"/>
<rect x="236.0" y="223" width="5" height="13" fill="#000"/>
<rect x="237.0" y="224" width="3" height="11" fill="#de0000"/>
<rect x="245.0" y="220" width="1" height="25" fill="#000"/>
<rect x="243.0" y="226" width="5" height="10" fill="#000"/>
<rect x="244.0" y="227" width="3" height="8" fill="#6cb155"/>
<rect x="252.0" y="213" width="1" height="29" fill="#000"/>
<rect x="250.0" y="226" width="5" height="16" fill="#000"/>
<rect x="251.0" y="227" width="3" height="14" fill="#de0000"/>
<rect x="259.0" y="220" width="1" height="38" fill="#000"/>
<rect x="257.0" y="234" width="5" height="8" fill="#000"/>
<rect x="258.0" y="235" width="3" height="6" fill="#6cb155"/>
<rect x="265.0" y="163" width="1" height="73" fill="#000"/>
<rect x="263.0" y="171" width="5" height="63" fill="#000"/>
<rect x="264.0" y="172" width="3" height="61" fill="#6cb155"/>
<rect x="272.0" y="181" width="1" height="31" fill="#000"/>
<rect x="270.0" y="191" width="5" height="16" fill="#000"/>
<rect x="271.0" y="192" width="3" height="14" fill="#de0000"/>
<rect x="279.0" y="164" width="1" height="51" fill="#000"/>
<rect x="277.0" y="192" width="5" height="15" fill="#000"/>
<rect x="278.0" y="193" width="3" height="13" fill="#6cb155"/>
<rect x="286.0" y="186" width="1" height="26" fill="#000"/>
<rect x="284.0" y="192" width="5" height="7" fill="#000"/>
<rect x="285.0" y="193" width="3" height="5" fill="#de0000"/>
<rect x="292.0" y="192" width="1" height="24" fill="#000"/>
<rect x="290.0" y="199" width="5" height="3" fill="#000"/>
<rect x="291.0" y="200" width="3" height="1" fill="#de0000"/>
<rect x="299.0" y="166" width="1" height="43" fill="#000"/>
<rect x="297.0" y="194" width="5" height="8" fill="#000"/>
<rect x="298.0" y="195" width="3" height="6" fill="#6cb155"/>
<rect x="306.0" y="189" width="1" height="43" fill="#000"/>
<rect x="304.0" y="196" width="5" height="31" fill="#000"/>
<rect x="305.0" y="197" width="3" height="29" fill="#de0000"/>
<rect x="313.0" y="172" width="1" height="61" fill="#000"/>
<rect x="311.0" y="190" width="5" height="37" fill="#000"/>
<rect x="312.0" y="191" width="3" height="35" fill="#6cb155"/>
<rect x="319.0" y="166" width="1" height="30" fill="#000"/>
<rect x="317.0" y="190" width="5" height="1" fill="#000"/>
<rect x="326.0" y="175" width="1" height="32" fill="#000"/>
<rect x="324.0" y="191" width="5" height="12" fill="#000"/>
<rect x="325.0" y="192" width="3" height="10" fill="#de0000"/>
<rect x="333.0" y="192" width="1" height="33" fill="#000"/>
<rect x="331.0" y="204" width="5" height="13" fill="#000"/>
<rect x="332.0" y="205" width="3" height="11" fill="#de0000"/>
<rect x="340.0" y="215" width="1" height="23" fill="#000"/>
<rect x="338.0" y="230" width="5" height="3" fill="#000"/>
<rect x="339.0" y="231" width="3" height="1" fill="#6cb155"/>
<rect x="346.0" y="208" width="1" height="33" fill="#000"/>
<rect x="344.0" y="230" width="5" height="11" fill="#000"/>
<rect x="345.0" y="231" width="3" height="9" fill="#de0000"/>
<rect x="353.0" y="218" width="1" height="38" fill="#000"/>
<rect x="351.0" y="230" width="5" height="11" fill="#000"/>
<rect x="352.0" y="231" width="3" height="9" fill="#6cb155"/>
<rect x="360.0" y="193" width="1" height="46" fill="#000"/>
<rect x="358.0" y="214" width="5" height="16" fill="#000"/>
<rect x="359.0" y="215" width="3" height="14" fill="#6cb155"/>
<rect x="367.0" y="188" width="1" height="32" fill="#000"/>
<rect x="365.0" y="203" width="5" height="11" fill="#000"/>
<rect x="366.0" y="204" width="3" height="9" fill="#6cb155"/>
<rect x="373.0" y="195" width="1" height="17" fill="#000"/>
<rect x="371.0" y="206" width="5" height="1" fill="#000"/>
<rect x="380.0" y="152" width="1" height="62" fill="#000"/>
<rect x="378.0" y="167" width="5" height="39" fill="#000"/>
<rect x="379.0" y="168" width="3" height="37" fill="#6cb155"/>
<rect x="387.0" y="145" width="1" height="41" fill="#000"/>
<rect x="385.0" y="167" width="5" height="19" fill="#000"/>
<rect x="386.0" y="168" width="3" height="17" fill="#de0000"/>
<rect x="394.0" y="175" width="1" height="28" fill="#000"/>
<rect x="392.0" y="186" width="5" height="12" fill="#000"/>
<rect x="393.0" y="187" width="3" height="10" fill="#de0000"/>
<rect x="400.0" y="184" width="1" height="27" fill="#000"/>
<rect x="398.0" y="198" width="5" height="10" fill="#000"/>
<rect x="399.0" y="199" width="3" height="8" fill="#de0000"/>
<rect x="407.0" y="203" width="1" height="41" fill="#000"/>
<rect x="405.0" y="209" width="5" height="32" fill="#000"/>
<rect x="406.0" y="210" width="3" height="30" fill="#de0000"/>
<rect x="414.0" y="232" width="1" height="17" fill="#000"/>
<rect x="412.0" y="241" width="5" height="3" fill="#000"/>
<rect x="413.0" y="242" width="3" height="1" fill="#de0000"/>
<rect x="421.0" y="235" width="1" height="29" fill="#000"/>
<rect x="419.0" y="244" width="5" height="12" fill="#000"/>
<rect x="420.0" y="245" width="3" height="10" fill="#de0000"/>
<rect x="427.0" y="248" width="1" height="34" fill="#000"/>
<rect x="425.0" y="256" width="5" height="13" fill="#000"/>
<rect x="426.0" y="257" width="3" height="11" fill="#de0000"/>
<rect x="434.0" y="228" width="1" height="43" fill="#000"/>
<rect x="432.0" y="256" width="5" height="13" fill="#000"/>
<rect x="433.0" y="257" width="3" height="11" fill="#6cb155"/>
<rect x="441.0" y="225" width="1" height="38" fill="#000"/>
<rect x="439.0" y="239" width="5" height="20" fill="#000"/>
<rect x="440.0" y="240" width="3" height="18" fill="#6cb155"/>
<rect x="448.0" y="215" width="1" height="27" fill="#000"/>
<rect x="446.0" y="236" width="5" height="3" fill="#000"/>
<rect x="447.0" y="237" width="3" height="1" fill="#6cb155"/>
<rect x="454.0" y="214" width="1" height="30" fill="#000"/>
<rect x="452.0" y="231" width="5" height="5" fill="#000"/>
<rect x="453.0" y="232" width="3" height="3" fill="#6cb155"/>
<rect x="461.0" y="215" width="1" height="28" fill="#000"/>
<rect x="459.0" y="229" width="5" height="3" fill="#000"/>
<rect x="460.0" y="230" width="3" height="1" fill="#6cb155"/>
<rect x="468.0" y="169" width="1" height="66" fill="#000"/>
<rect x="466.0" y="192" width="5" height="37" fill="#000"/>
<rect x="467.0" y="193" width="3" height="35" fill="#6cb155"/>
<rect x="475.0" y="186" width="1" height="28" fill="#000"/>
<rect x="473.0" y="194" width="5" height="16" fill="#000"/>
<rect x="474.0" y="195" width="3" height="14" fill="#de0000"/>
<rect x="481.0" y="204" width="1" height="27" fill="#000"/>
<rect x="479.0" y="210" width="5" height="17" fill="#000"/>
<rect x="480.0" y="211" width="3" height="15" fill="#de0000"/>
<rect x="488.0" y="226" width="1" height="27" fill="#000"/>
<rect x="486.0" y="228" width="5" height="20" fill="#000"/>
<rect x="487.0" y="229" width="3" height="18" fill="#de0000"/>
<rect x="495.0" y="232" width="1" height="18" fill="#000"/>
<rect x="493.0" y="243" width="5" height="5" fill="#000"/>
<rect x="494.0" y="244" width="3" height="3" fill="#6cb155"/>
<rect x="502.0" y="230" width="1" height="22" fill="#000"/>
<rect x="500.0" y="243" width="5" height="6" fill="#000"/>
<rect x="501.0" y="244" width="3" height="4" fill="#de0000"/>
<rect x="508.0" y="235" width="1" height="24" fill="#000"/>
<rect x="506.0" y="254" width="5" height="3" fill="#000"/>
<rect x="507.0" y="255" width="3" height="1" fill="#de0000"/>
<rect x="515.0" y="238" width="1" height="25" fill="#000"/>
<rect x="513.0" y="252" width="5" height="5" fill="#000"/>
<rect x="514.0" y="253" width="3" height="3" fill="#6cb155"/>
<rect x="522.0" y="242" width="1" height="25" fill="#000"/>
<rect x="520.0" y="252" width="5" height="12" fill="#000"/>
<rect x="521.0" y="253" width="3" height="10" fill="#de0000"/>
<rect x="529.0" y="257" width="1" height="28" fill="#000"/>
<rect x="527.0" y="264" width="5" height="12" fill="#000"/>
<rect x="528.0" y="265" width="3" height="10" fill="#de0000"/>
<rect x="535.0" y="274" width="1" height="19" fill="#000"/>
<rect x="533.0" y="276" width="5" height="13" fill="#000"/>
<rect x="534.0" y="277" width="3" height="11" fill="#de0000"/>
<rect x="542.0" y="259" width="1" height="33" fill="#000"/>
<rect x="540.0" y="265" width="5" height="23" fill="#000"/>
<rect x="541.0" y="266" width="3" height="21" fill="#6cb155"/>
<rect x="549.0" y="246" width="1" height="24" fill="#000"/>
<rect x="547.0" y="266" width="5" height="1" fill="#000"/>
<rect x="556.0" y="260" width="1" height="32" fill="#000"/>
<rect x="554.0" y="266" width="5" height="26" fill="#000"/>
<rect x="555.0" y="267" width="3" height="24" fill="#de0000"/>
<rect x="562.0" y="278" width="1" height="32" fill="#000"/>
<rect x="560.0" y="292" width="5" height="9" fill="#000"/>
<rect x="561.0" y="293" width="3" height="7" fill="#de0000"/>
<rect x="569.0" y="293" width="1" height="21" fill="#000"/>
<rect x="567.0" y="298" width="5" height="3" fill="#000"/>
<rect x="568.0" y="299" width="3" height="1" fill="#6cb155"/>
<rect x="576.0" y="297" width="1" height="26" fill="#000"/>
<rect x="574.0" y="309" width="5" height="13" fill="#000"/>
<rect x="575.0" y="310" width="3" height="11" fill="#de0000"/>
<rect x="583.0" y="312" width="1" height="23" fill="#000"/>
<rect x="581.0" y="322" width="5" height="8" fill="#000"/>
<rect x="582.0" y="323" width="3" height="6" fill="#de0000"/>
<rect x="589.0" y="318" width="1" height="21" fill="#000"/>
<rect x="587.0" y="331" width="5" height="1" fill="#000"/>
<rect x="596.0" y="317" width="1" height="19" fill="#000"/>
<rect x="594.0" y="331" width="5" height="3" fill="#000"/>
<rect x="595.0" y="332" width="3" height="1" fill="#de0000"/>
<rect x="603.0" y="317" width="1" height="22" fill="#000"/>
<rect x="601.0" y="322" width="5" height="12" fill="#000"/>
<rect x="602.0" y="323" width="3" height="10" fill="#6cb155"/>
<rect x="610.0" y="322" width="1" height="19" fill="#000"/>
<rect x="608.0" y="327" width="5" height="12" fill="#000"/>
<rect x="609.0" y="328" width="3" height="10" fill="#de0000"/>
<rect x="616.0" y="332" width="1" height="14" fill="#000"/>
<rect x="614.0" y="339" width="5" height="5" fill="#000"/>
<rect x="615.0" y="340" width="3" height="3" fill="#de0000"/>
<rect x="623.0" y="339" width="1" height="18" fill="#000"/>
<rect x="621.0" y="344" width="5" height="4" fill="#000"/>
<rect x="622.0" y="345" width="3" height="2" fill="#de0000"/>
<rect x="630.0" y="340" width="1" height="13" fill="#000"/>
<rect x="628.0" y="348" width="5" height="3" fill="#000"/>
<rect x="629.0" y="349" width="3" height="1" fill="#de0000"/>
<rect x="637.0" y="331" width="1" height="25" fill="#000"/>
<rect x="635.0" y="347" width="5" height="4" fill="#000"/>
<rect x="636.0" y="348" width="3" height="2" fill="#6cb155"/>
<rect x="643.0" y="342" width="1" height="29" fill="#000"/>
<rect x="641.0" y="347" width="5" height="20" fill="#000"/>
<rect x="642.0" y="348" width="3" height="18" fill="#de0000"/>
<rect x="650.0" y="354" width="1" height="20" fill="#000"/>
<rect x="648.0" y="367" width="5" height="3" fill="#000"/>
<rect x="649.0" y="368" width="3" height="1" fill="#de0000"/>
<rect x="657.0" y="370" width="1" height="19" fill="#000"/>
<rect x="655.0" y="370" width="5" height="14" fill="#000"/>
<rect x="656.0" y="371" width="3" height="12" fill="#de0000"/>
<rect x="664.0" y="374" width="1" height="40" fill="#000"/>
<rect x="662.0" y="391" width="5" height="22" fill="#000"/>
<rect x="663.0" y="392" width="3" height="20" fill="#de0000"/>
<rect x="670.0" y="404" width="1" height="21" fill="#000"/>
<rect x="668.0" y="414" width="5" height="3" fill="#000"/>
<rect x="669.0" y="415" width="3" height="1" fill="#de0000"/>
<rect x="677.0" y="385" width="1" height="36" fill="#000"/>
<rect x="675.0" y="392" width="5" height="23" fill="#000"/>
<rect x="676.0" y="393" width="3" height="21" fill="#6cb155"/>
<rect x="684.0" y="369" width="1" height="28" fill="#000"/>
<rect x="682.0" y="376" width="5" height="16" fill="#000"/>
<rect x="683.0" y="377" width="3" height="14" fill="#6cb155"/>
<rect x="691.0" y="363" width="1" height="28" fill="#000"/>
<rect x="689.0" y="376" width="5" height="12" fill="#000"/>
<rect x="690.0" y="377" width="3" height="10" fill="#de0000"/>
<rect x="697.0" y="383" width="1" height="29" fill="#000"/>
<rect x="695.0" y="389" width="5" height="19" fill="#000"/>
<rect x="696.0" y="390" width="3" height="17" fill="#de0000"/>
<rect x="704.0" y="389" width="1" height="27" fill="#000"/>
<rect x="702.0" y="408" width="5" height="1" fill="#000"/>
<rect x="711.0" y="394" width="1" height="24" fill="#000"/>
<rect x="709.0" y="407" width="5" height="1" fill="#000"/>
<rect x="718.0" y="398" width="1" height="24" fill="#000"/>
<rect x="716.0" y="407" width="5" height="13" fill="#000"/>
<rect x="717.0" y="408" width="3" height="11" fill="#de0000"/>
<rect x="724.0" y="387" width="1" height="36" fill="#000"/>
<rect x="722.0" y="403" width="5" height="17" fill="#000"/>
<rect x="723.0" y="404" width="3" height="15" fill="#6cb155"/>
<rect x="731.0" y="385" width="1" height="29" fill="#000"/>
<rect x="729.0" y="393" width="5" height="21" fill="#000"/>
<rect x="730.0" y="394" width="3" height="19" fill="#de0000"/>
<rect x="738.0" y="386" width="1" height="30" fill="#000"/>
<rect x="736.0" y="404" width="5" height="11" fill="#000"/>
<rect x="737.0" y="405" width="3" height="9" fill="#6cb155"/>
<rect x="745.0" y="398" width="1" height="43" fill="#000"/>
<rect x="743.0" y="404" width="5" height="33" fill="#000"/>
<rect x="744.0" y="405" width="3" height="31" fill="#de0000"/>
<rect x="751.0" y="431" width="1" height="36" fill="#000"/>
<rect x="749.0" y="437" width="5" height="29" fill="#000"/>
<rect x="750.0" y="438" width="3" height="27" fill="#de0000"/>
<rect x="758.0" y="444" width="1" height="30" fill="#000"/>
<rect x="756.0" y="466" width="5" height="5" fill="#000"/>
<rect x="757.0" y="467" width="3" height="3" fill="#de0000"/>
<rect x="765.0" y="469" width="1" height="37" fill="#000"/>
<rect x="763.0" y="489" width="5" height="3" fill="#000"/>
<rect x="764.0" y="490" width="3" height="1" fill="#de0000"/>
<rect x="772.0" y="476" width="1" height="53" fill="#000"/>
<rect x="770.0" y="490" width="5" height="32" fill="#000"/>
<rect x="771.0" y="491" width="3" height="30" fill="#de0000"/>
<rect x="778.0" y="497" width="1" height="50" fill="#000"/>
<rect x="776.0" y="522" width="5" height="25" fill="#000"/>
<rect x="777.0" y="523" width="3" height="23" fill="#de0000"/>
<rect x="785.0" y="507" width="1" height="63" fill="#000"/>
<rect x="783.0" y="547" width="5" height="5" fill="#000"/>
<rect x="784.0" y="548" width="3" height="3" fill="#de0000"/>
<rect x="792.0" y="446" width="1" height="110" fill="#000"/>
<rect x="790.0" y="471" width="5" height="81" fill="#000"/>
<rect x="791.0" y="472" width="3" height="79" fill="#6cb155"/>
<rect x="799.0" y="423" width="1" height="77" fill="#000"/>
<rect x="797.0" y="473" width="5" height="6" fill="#000"/>
<rect x="798.0" y="474" width="3" height="4" fill="#de0000"/>
<rect x="805.0" y="468" width="1" height="43" fill="#000"/>
<rect x="803.0" y="479" width="5" height="29" fill="#000"/>
<rect x="804.0" y="480" width="3" height="27" fill="#de0000"/>
<rect x="812.0" y="461" width="1" height="51" fill="#000"/>
<rect x="810.0" y="479" width="5" height="29" fill="#000"/>
<rect x="811.0" y="480" width="3" height="27" fill="#6cb155"/>
<rect x="819.0" y="423" width="1" height="59" fill="#000"/>
<rect x="817.0" y="434" width="5" height="45" fill="#000"/>
<rect x="818.0" y="435" width="3" height="43" fill="#6cb155"/>
<rect x="826.0" y="398" width="1" height="92" fill="#000"/>
<rect x="824.0" y="434" width="5" height="50" fill="#000"/>
<rect x="825.0" y="435" width="3" height="48" fill="#de0000"/>
<rect x="832.0" y="475" width="1" height="45" fill="#000"/>
<rect x="830.0" y="490" width="5" height="24" fill="#000"/>
<rect x="831.0" y="491" width="3" height="22" fill="#de0000"/>
<rect x="839.0" y="497" width="1" height="28" fill="#000"/>
<rect x="837.0" y="508" width="5" height="6" fill="#000"/>
<rect x="838.0" y="509" width="3" height="4" fill="#6cb155"/>
<rect x="846.0" y="502" width="1" height="26" fill="#000"/>
<rect x="844.0" y="508" width="5" height="14" fill="#000"/>
<rect x="845.0" y="509" width="3" height="12" fill="#de0000"/>
<rect x="853.0" y="494" width="1" height="40" fill="#000"/>
<rect x="851.0" y="509" width="5" height="13" fill="#000"/>
<rect x="852.0" y="510" width="3" height="11" fill="#6cb155"/>
<rect x="859.0" y="475" width="1" height="39" fill="#000"/>
<rect x="857.0" y="505" width="5" height="4" fill="#000"/>
<rect x="858.0" y="506" width="3" height="2" fill="#6cb155"/>
<rect x="866.0" y="491" width="1" height="27" fill="#000"/>
<rect x="864.0" y="504" width="5" height="6" fill="#000"/>
<rect x="865.0" y="505" width="3" height="4" fill="#6cb155"/>
<rect x="873.0" y="467" width="1" height="41" fill="#000"/>
<rect x="871.0" y="494" width="5" height="10" fill="#000"/>
<rect x="872.0" y="495" width="3" height="8" fill="#6cb155"/>
<rect x="880.0" y="469" width="1" height="33" fill="#000"/>
<rect x="878.0" y="483" width="5" height="11" fill="#000"/>
<rect x="879.0" y="484" width="3" height="9" fill="#6cb155"/>
<rect x="886.0" y="443" width="1" height="44" fill="#000"/>
<rect x="884.0" y="462" width="5" height="22" fill="#000"/>
<rect x="885.0" y="463" width="3" height="20" fill="#6cb155"/>
<rect x="893.0" y="449" width="1" height="46" fill="#000"/>
<rect x="891.0" y="462" width="5" height="23" fill="#000"/>
<rect x="892.0" y="463" width="3" height="21" fill="#de0000"/>
<rect x="900.0" y="483" width="1" height="21" fill="#000"/>
<rect x="898.0" y="489" width="5" height="4" fill="#000"/>
<rect x="899.0" y="490" width="3" height="2" fill="#de0000"/>
<rect x="907.0" y="481" width="1" height="26" fill="#000"/>
<rect x="905.0" y="493" width="5" height="11" fill="#000"/>
<rect x="906.0" y="494" width="3" height="9" fill="#de0000"/>
<rect x="913.0" y="501" width="1" height="29" fill="#000"/>
<rect x="911.0" y="504" width="5" height="22" fill="#000"/>
<rect x="912.0" y="505" width="3" height="20" fill="#de0000"/>
<rect x="920.0" y="492" width="1" height="38" fill="#000"/>
<rect x="918.0" y="511" width="5" height="15" fill="#000"/>
<rect x="919.0" y="512" width="3" height="13" fill="#6cb155"/>
<rect x="927.0" y="492" width="1" height="28" fill="#000"/>
<rect x="925.0" y="508" width="5" height="3" fill="#000"/>
<rect x="926.0" y="509" width="3" height="1" fill="#6cb155"/>
<rect x="934.0" y="446" width="1" height="45" fill="#000"/>
<rect x="932.0" y="475" width="5" height="1" fill="#000"/>
<rect x="940.0" y="326" width="1" height="159" fill="#000"/>
<rect x="938.0" y="380" width="5" height="95" fill="#000"/>
<rect x="939.0" y="381" width="3" height="93" fill="#6cb155"/>
<rect x="947.0" y="354" width="1" height="75" fill="#000"/>
<rect x="945.0" y="380" width="5" height="42" fill="#000"/>
<rect x="946.0" y="381" width="3" height="40" fill="#de0000"/>
<rect x="954.0" y="328" width="1" height="98" fill="#000"/>
<rect x="952.0" y="357" width="5" height="65" fill="#000"/>
<rect x="953.0" y="358" width="3" height="63" fill="#6cb155"/>
<rect x="961.0" y="313" width="1" height="71" fill="#000"/>
<rect x="959.0" y="357" width="5" height="25" fill="#000"/>
<rect x="960.0" y="358" width="3" height="23" fill="#de0000"/>
<rect x="967.0" y="290" width="1" height="143" fill="#000"/>
<rect x="965.0" y="346" width="5" height="84" fill="#000"/>
<rect x="966.0" y="347" width="3" height="82" fill="#de0000"/>
<rect x="974.0" y="407" width="1" height="55" fill="#000"/>
<rect x="972.0" y="430" width="5" height="4" fill="#000"/>
<rect x="973.0" y="431" width="3" height="2" fill="#de0000"/>
<rect x="981.0" y="379" width="1" height="67" fill="#000"/>
<rect x="979.0" y="392" width="5" height="42" fill="#000"/>
<rect x="980.0" y="393" width="3" height="40" fill="#6cb155"/>
<rect x="988.0" y="317" width="1" height="77" fill="#000"/>
<rect x="986.0" y="320" width="5" height="72" fill="#000"/>
<rect x="987.0" y="321" width="3" height="70" fill="#6cb155"/>
<rect x="994.0" y="281" width="1" height="55" fill="#000"/>
<rect x="992.0" y="288" width="5" height="33" fill="#000"/>
<rect x="993.0" y="289" width="3" height="31" fill="#6cb155"/>
<rect x="1001.0" y="290" width="1" height="65" fill="#000"/>
<rect x="999.0" y="290" width="5" height="57" fill="#000"/>
<rect x="1000.0" y="291" width="3" height="55" fill="#de0000"/>
<rect x="1008.0" y="322" width="1" height="37" fill="#000"/>
<rect x="1006.0" y="347" width="5" height="3" fill="#000"/>
<rect x="1007.0" y="348" width="3" height="1" fill="#de0000"/>
<rect x="1015.0" y="273" width="1" height="91" fill="#000"/>
<rect x="1013.0" y="279" width="5" height="71" fill="#000"/>
<rect x="1014.0" y="280" width="3" height="69" fill="#6cb155"/>
<rect x="1021.0" y="252" width="1" height="90" fill="#000"/>
<rect x="1019.0" y="279" width="5" height="52" fill="#000"/>
<rect x="1020.0" y="280" width="3" height="50" fill="#de0000"/>
<rect x="1028.0" y="245" width="1" height="98" fill="#000"/>
<rect x="1026.0" y="275" width="5" height="56" fill="#000"/>
<rect x="1027.0" y="276" width="3" height="54" fill="#6cb155"/>
<rect x="1035.0" y="218" width="1" height="126" fill="#000"/>
<rect x="1033.0" y="261" width="5" height="55" fill="#000"/>
<rect x="1034.0" y="262" width="3" height="53" fill="#de0000"/>
<rect x="1042.0" y="243" width="1" height="81" fill="#000"/>
<rect x="1040.0" y="284" width="5" height="32" fill="#000"/>
<rect x="1041.0" y="285" width="3" height="30" fill="#6cb155"/>
<rect x="1048.0" y="273" width="1" height="36" fill="#000"/>
<rect x="1046.0" y="284" width="5" height="6" fill="#000"/>
<rect x="1047.0" y="285" width="3" height="4" fill="#de0000"/>
<rect x="1055.0" y="235" width="1" height="61" fill="#000"/>
<rect x="1053.0" y="254" width="5" height="36" fill="#000"/>
<rect x="1054.0" y="255" width="3" height="34" fill="#6cb155"/>
<rect x="1062.0" y="225" width="1" height="45" fill="#000"/>
<rect x="1060.0" y="252" width="5" height="3" fill="#000"/>
<rect x="1061.0" y="253" width="3" height="1" fill="#6cb155"/>
<rect x="1069.0" y="225" width="1" height="40" fill="#000"/>
<rect x="1067.0" y="239" width="5" height="13" fill="#000"/>
<rect x="1068.0" y="240" width="3" height="11" fill="#6cb155"/>
<rect x="1075.0" y="223" width="1" height="74" fill="#000"/>
<rect x="1073.0" y="239" width="5" height="53" fill="#000"/>
<rect x="1074.0" y="240" width="3" height="51" fill="#de0000"/>
<rect x="1082.0" y="290" width="1" height="60" fill="#000"/>
<rect x="1080.0" y="292" width="5" height="31" fill="#000"/>
<rect x="1081.0" y="293" width="3" height="29" fill="#de0000"/>
<rect x="1089.0" y="261" width="1" height="66" fill="#000"/>
<rect x="1087.0" y="291" width="5" height="32" fill="#000"/>
<rect x="1088.0" y="292" width="3" height="30" fill="#6cb155"/>
<rect x="1096.0" y="273" width="1" height="28" fill="#000"/>
<rect x="1094.0" y="283" width="5" height="8" fill="#000"/>
<rect x="1095.0" y="284" width="3" height="6" fill="#6cb155"/>
<rect x="1102.0" y="276" width="1" height="47" fill="#000"/>
<rect x="1100.0" y="283" width="5" height="20" fill="#000"/>
<rect x="1101.0" y="284" width="3" height="18" fill="#de0000"/>
<rect x="1109.0" y="282" width="1" height="41" fill="#000"/>
<rect x="1107.0" y="303" width="5" height="15" fill="#000"/>
<rect x="1108.0" y="304" width="3" height="13" fill="#de0000"/>
<rect x="1116.0" y="318" width="1" height="116" fill="#000"/>
<rect x="1114.0" y="318" width="5" height="95" fill="#000"/>
<rect x="1115.0" y="319" width="3" height="93" fill="#de0000"/>
<rect x="1123.0" y="380" width="1" height="47" fill="#000"/>
<rect x="1121.0" y="413" width="5" height="4" fill="#000"/>
<rect x="1122.0" y="414" width="3" height="2" fill="#de0000"/>
<rect x="1129.0" y="388" width="1" height="37" fill="#000"/>
<rect x="1127.0" y="407" width="5" height="10" fill="#000"/>
<rect x="1128.0" y="408" width="3" height="8" fill="#6cb155"/>
<rect x="1136.0" y="357" width="1" height="52" fill="#000"/>
<rect x="1134.0" y="371" width="5" height="38" fill="#000"/>
<rect x="1135.0" y="372" width="3" height="36" fill="#de0000"/>
<rect x="1143.0" y="399" width="1" height="23" fill="#000"/>
<rect x="1141.0" y="409" width="5" height="13" fill="#000"/>
<rect x="1142.0" y="410" width="3" height="11" fill="#de0000"/>
<rect x="1150.0" y="396" width="1" height="31" fill="#000"/>
<rect x="1148.0" y="414" width="5" height="8" fill="#000"/>
<rect x="1149.0" y="415" width="3" height="6" fill="#6cb155"/>
<rect x="1156.0" y="401" width="1" height="23" fill="#000"/>
<rect x="1154.0" y="406" width="5" height="8" fill="#000"/>
<rect x="1155.0" y="407" width="3" height="6" fill="#6cb155"/>
</g>
<rect x="143.0" y="227.0" width="952.5" height="2" fill="#ff0000"/>
<rect x="251.0" y="271.0" width="864.0" height="2" fill="#ff0000"/>
<rect x="932.0" y="315.0" width="198.0" height="2" fill="#ff0000"/>
<rect x="616.0" y="359.0" width="548.0" height="2" fill="#ff0000"/>
<rect x="642.5" y="381.0" width="521.5" height="2" fill="#ff0000"/>
<rect x="757.5" y="490.0" width="190.5" height="2" fill="#ff0000"/>
<rect x="784.5" y="570.0" width="82.5" height="2" fill="#ff0000"/>
<rect x="973.5" y="462.0" width="190.5" height="2" fill="#ff0000"/>
<rect x="1013.5" y="211.0" width="157.0" height="2" fill="#176220"/>
<rect x="1074.5" y="435.0" width="95.5" height="2" fill="#820a47"/>
<rect x="1074.5" y="487.3" width="95.5" height="2" fill="#820a47"/>
<path clip-path="url(#pane)" d="M22.0 31.5 C25.2 31.9 33.4 32.9 41.1 33.8 C48.8 34.7 59.7 35.8 68.3 36.8 C76.9 37.8 83.7 38.4 92.7 39.8 C101.7 41.1 113.1 43.1 122.5 44.9 C132.0 46.8 140.6 48.9 149.7 50.9 C158.7 52.9 167.8 55.2 176.8 57.1 C185.9 59.1 196.9 61.1 204.0 62.6 C211.0 64.1 212.1 64.4 218.9 66.1 C225.7 67.8 235.8 70.8 244.7 72.9 C253.5 75.0 262.8 76.9 271.8 78.8 C280.8 80.7 289.9 82.5 298.9 84.3 C308.0 86.1 317.0 87.7 326.1 89.7 C335.1 91.7 345.3 94.3 353.2 96.2 C361.1 98.1 365.8 99.6 373.6 101.1 C381.4 102.6 391.1 103.4 400.0 105.3 C408.9 107.2 418.1 110.4 427.1 112.6 C436.2 114.9 445.2 116.9 454.3 118.9 C463.3 120.8 472.4 122.3 481.4 124.3 C490.5 126.3 499.5 128.6 508.5 130.8 C517.6 133.1 526.6 135.6 535.7 137.9 C544.7 140.1 553.8 141.9 562.8 144.4 C571.9 146.8 580.9 149.7 590.0 152.5 C599.0 155.4 608.1 158.6 617.1 161.5 C626.1 164.3 635.2 166.6 644.2 169.6 C653.3 172.7 662.3 176.5 671.4 179.7 C680.4 182.8 689.5 185.5 698.5 188.6 C707.6 191.7 716.6 194.8 725.6 198.1 C734.7 201.4 746.0 205.7 752.8 208.4 C759.6 211.1 761.8 212.1 766.4 214.4 C770.9 216.7 775.5 219.8 780.0 222.2 C784.5 224.6 789.0 226.7 793.6 229.0 C798.1 231.3 802.6 233.9 807.1 235.8 C811.7 237.7 816.2 238.6 820.7 240.4 C825.2 242.2 829.4 244.7 834.3 246.6 C839.2 248.6 844.9 250.0 850.0 252.2 C855.1 254.4 860.0 257.5 865.1 259.8 C870.1 262.0 874.7 263.7 880.1 265.8 C885.5 267.8 892.4 270.0 897.4 272.1 C902.5 274.2 905.6 276.5 910.2 278.6 C914.9 280.7 921.3 283.2 925.3 284.6 C929.3 286.0 930.6 286.3 934.3 287.2 C938.1 288.0 943.1 288.8 947.9 289.9 C952.7 291.0 957.9 292.3 963.0 293.6 C968.0 295.0 973.0 297.0 978.0 298.2 C983.0 299.3 988.1 299.7 993.1 300.4 C998.1 301.1 1003.6 301.7 1008.1 302.2 C1012.6 302.7 1017.3 303.1 1020.0 303.4 C1022.7 303.8 1021.3 303.8 1024.2 304.2 C1027.2 304.5 1033.3 305.2 1037.8 305.5 C1042.3 305.8 1046.8 305.9 1051.4 306.1 C1055.9 306.2 1060.4 306.3 1064.9 306.6 C1069.5 306.9 1074.0 307.3 1078.5 307.7 C1083.0 308.1 1087.6 308.5 1092.1 309.1 C1096.6 309.6 1101.1 310.3 1105.6 310.9 C1110.2 311.6 1114.7 312.3 1119.2 313.1 C1123.7 313.9 1128.3 315.0 1132.8 315.8 C1137.3 316.6 1142.3 317.3 1146.4 318.0 C1150.4 318.7 1155.4 319.6 1157.2 319.9" fill="none" stroke="#bf9000" stroke-width="2.6" stroke-linejoin="round" stroke-linecap="round"/>
<g shape-rendering="crispEdges" fill="#4a4a5a">
<rect x="1314" y="34" width="1" height="821"/>
<rect x="13" y="800" width="1448" height="1"/>
</g>
<text transform="translate(12.00,24.50) scale(1.0555,1)" font-size="14.2" fill="#131722">Continuum_Economics created with TradingView.com, Apr 16, 2026 13:10 UTC+1</text>
<text transform="translate(626.60,67.80) scale(1.0629,1)" font-size="18.6" fill="#000" stroke="#000" stroke-width="0.91" stroke-linejoin="round">USD/ZAR Daily Chart</text>
<text transform="translate(1094.90,67.60) scale(1.1062,1)" font-size="19.0" fill="#000" stroke="#000" stroke-width="0.82" stroke-linejoin="round">1-2 day view</text>
<text transform="translate(377.50,95.50) scale(1.1185,1)" font-size="18.4" fill="#b95d05" stroke="#b95d05" stroke-width="0.77" stroke-linejoin="round">233d weighted MA</text>
<text transform="translate(142.70,145.60) scale(1.1334,1)" font-size="18.2" fill="#1d4089" stroke="#1d4089" stroke-width="0.73" stroke-linejoin="round">21d weighted MA</text>
<text transform="translate(788.60,124.90) scale(1.1947,1)" font-size="18.0" fill="#176220" stroke="#176220" stroke-width="0.6" stroke-linejoin="round">17.2750 - 38.2% ret of 2025-2026 fall</text>
<text transform="translate(788.60,145.00) scale(1.1906,1)" font-size="18.0" fill="#176220" stroke="#176220" stroke-width="0.61" stroke-linejoin="round">17.7800 - 50% ret of 2025-2026 fall</text>
<text transform="translate(94.20,419.10) scale(1.1940,1)" font-size="17.7" fill="#820a47" stroke="#820a47" stroke-width="0.59" stroke-linejoin="round">16.2520 - 61.8% ret of Jan-Mar rally</text>
<text transform="translate(94.20,439.10) scale(1.1940,1)" font-size="17.7" fill="#820a47" stroke="#820a47" stroke-width="0.59" stroke-linejoin="round">16.0170 - 76.4% ret of Jan-Mar rally</text>
<text transform="translate(32.50,655.00) scale(1.1096,1)" font-size="19.0" fill="#000" stroke="#000" stroke-width="0.82" stroke-linejoin="round">Tension Indicator</text>
<text transform="translate(931.10,219.40) scale(1.0846,1)" font-size="19.3" fill="#176220" stroke="#176220" stroke-width="0.89" stroke-linejoin="round">17.2750</text>
<text transform="translate(1096.50,234.80) scale(1.0875,1)" font-size="19.3" fill="#ff0000" stroke="#ff0000" stroke-width="0.88" stroke-linejoin="round">17.2000</text>
<text transform="translate(1114.60,276.60) scale(1.0860,1)" font-size="19.3" fill="#ff0000" stroke="#ff0000" stroke-width="0.89" stroke-linejoin="round">17.0000</text>
<text transform="translate(856.20,322.20) scale(1.0903,1)" font-size="19.3" fill="#ff0000" stroke="#ff0000" stroke-width="0.88" stroke-linejoin="round">16.8000</text>
<text transform="translate(679.80,496.50) scale(1.0746,1)" font-size="19.3" fill="#ff0000" stroke="#ff0000" stroke-width="0.92" stroke-linejoin="round">16.0000</text>
<text transform="translate(869.30,577.30) scale(1.0789,1)" font-size="19.3" fill="#ff0000" stroke="#ff0000" stroke-width="0.9" stroke-linejoin="round">15.6370</text>
<text transform="translate(1174.30,494.50) scale(1.1172,1)" font-size="18.9" fill="#820a47" stroke="#820a47" stroke-width="0.79" stroke-linejoin="round">16.0170</text>
<text transform="translate(1165.30,366.00) scale(1.0225,1)" font-size="26.0" fill="#ff0000" font-weight="bold">16.6000</text>
<text transform="translate(1165.30,389.10) scale(1.0225,1)" font-size="26.0" fill="#ff0000" font-weight="bold">16.5000</text>
<text transform="translate(1168.10,443.20) scale(1.0257,1)" font-size="26.0" fill="#820a47" font-weight="bold">16.2520</text>
<text transform="translate(1164.10,472.20) scale(1.0225,1)" font-size="26.0" fill="#ff0000" font-weight="bold">16.1280</text>
<g stroke="#ff0000" stroke-width="6" stroke-linecap="round" stroke-linejoin="round" fill="none"><path d="M1241.3 54.2 L1261.6 77.9"/><path d="M1263.3 57.2 L1261.8 78.2 L1240.3 75.6"/></g>
<text transform="translate(1330.80,170.10) scale(1.0424,1)" font-size="23.4" fill="#131722" stroke="#131722" stroke-width="0.4" stroke-linejoin="round">17.50000</text>
<text transform="translate(1330.80,280.10) scale(1.0424,1)" font-size="23.4" fill="#131722" stroke="#131722" stroke-width="0.4" stroke-linejoin="round">17.00000</text>
<text transform="translate(1330.80,390.10) scale(1.0424,1)" font-size="23.4" fill="#131722" stroke="#131722" stroke-width="0.4" stroke-linejoin="round">16.50000</text>
<text transform="translate(1330.80,499.10) scale(1.0424,1)" font-size="23.4" fill="#131722" stroke="#131722" stroke-width="0.4" stroke-linejoin="round">16.00000</text>
<text transform="translate(1330.80,609.10) scale(1.0424,1)" font-size="23.4" fill="#131722" stroke="#131722" stroke-width="0.4" stroke-linejoin="round">15.50000</text>
<path d="M1315 303.2 H1440 a2 2 0 0 1 2 2 V335.8 a2 2 0 0 1 -2 2 H1315 Z" fill="#bf9000"/>
<text transform="translate(1331.30,328.60) scale(1.0363,1)" font-size="23.4" fill="#fff" stroke="#fff" stroke-width="0.4" stroke-linejoin="round">16.78227</text>
<path d="M1315 340.2 H1440 a2 2 0 0 1 2 2 V372.8 a2 2 0 0 1 -2 2 H1315 Z" fill="#3b40a5"/>
<text transform="translate(1331.30,365.60) scale(1.0363,1)" font-size="23.4" fill="#fff" stroke="#fff" stroke-width="0.4" stroke-linejoin="round">16.61428</text>
<path d="M1315 389.09999999999997 H1440 a2 2 0 0 1 2 2 V421.7 a2 2 0 0 1 -2 2 H1315 Z" fill="#6aa84f"/>
<text transform="translate(1331.30,414.50) scale(1.0363,1)" font-size="23.4" fill="#fff" stroke="#fff" stroke-width="0.4" stroke-linejoin="round">16.38691</text>
<rect x="1319.5" y="39" width="138" height="32" rx="4" fill="#fff" stroke="#ebebeb" stroke-width="1"/>
<text transform="translate(1330.00,59.90) scale(0.8415,1)" font-size="15.8" fill="#131722">ZAR</text>
<text transform="translate(49.20,832.90) scale(0.9863,1)" font-size="23.2" fill="#131722" stroke="#131722" stroke-width="0.3" stroke-linejoin="round">Sep</text>
<text transform="translate(197.90,832.90) scale(1.1059,1)" font-size="23.2" fill="#131722" stroke="#131722" stroke-width="0.3" stroke-linejoin="round">Oct</text>
<text transform="translate(352.60,832.90) scale(1.0182,1)" font-size="23.2" fill="#131722" stroke="#131722" stroke-width="0.3" stroke-linejoin="round">Nov</text>
<text transform="translate(487.50,832.90) scale(1.0182,1)" font-size="23.2" fill="#131722" stroke="#131722" stroke-width="0.3" stroke-linejoin="round">Dec</text>
<text transform="translate(777.80,832.90) scale(1.0208,1)" font-size="23.2" fill="#131722" stroke="#131722" stroke-width="0.3" stroke-linejoin="round">Feb</text>
<text transform="translate(911.80,832.90) scale(1.0642,1)" font-size="23.2" fill="#131722" stroke="#131722" stroke-width="0.3" stroke-linejoin="round">Mar</text>
<text transform="translate(1061.60,832.90) scale(1.1082,1)" font-size="23.2" fill="#131722" stroke="#131722" stroke-width="0.3" stroke-linejoin="round">Apr</text>
<text transform="translate(1207.70,832.90) scale(1.0180,1)" font-size="23.2" fill="#131722" stroke="#131722" stroke-width="0.3" stroke-linejoin="round">May</text>
<text transform="translate(627.80,832.90) scale(1.0901,1)" font-size="24" fill="#000" font-weight="bold">2026</text>
<g fill="#141414"><path d="M15.5 882.6 H30.9 V900.8 H22.8 V889.9 H15.5 Z"/><circle cx="36.1" cy="885.9" r="3.3"/><path d="M41.5 882.6 H52.9 L45.6 900.8 H37.1 Z"/></g>
<text transform="translate(62.20,900.80) scale(1.0147,1)" font-size="25.4" fill="#141414" font-weight="bold">TradingView</text>
</svg></body></html>
